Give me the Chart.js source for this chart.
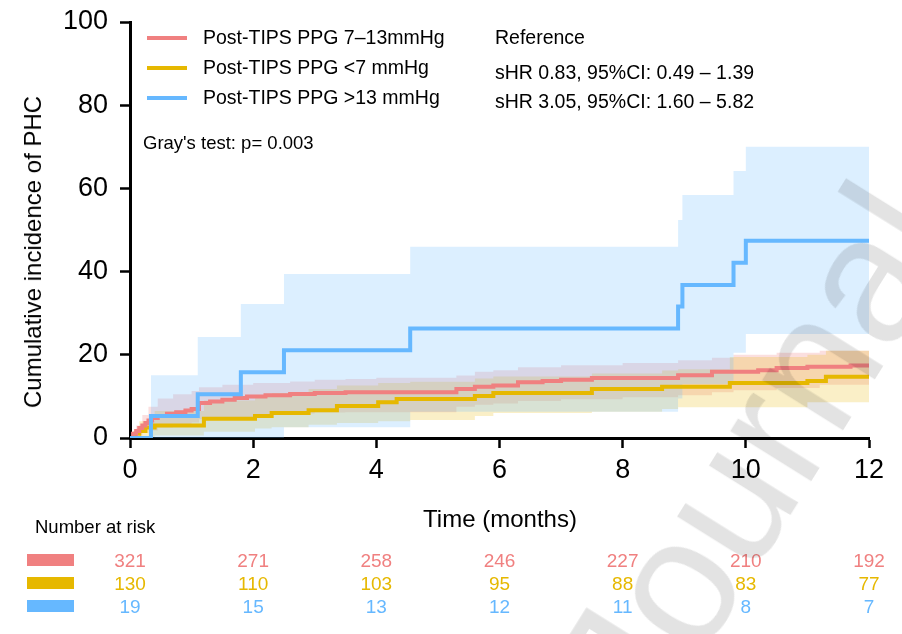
<!DOCTYPE html>
<html>
<head>
<meta charset="utf-8">
<script src="https://cdn.jsdelivr.net/npm/chart.js@4.4.1/dist/chart.umd.min.js"></script>
<style>
  body { margin: 0; background: #fff; font-family: "Liberation Sans", Arial, sans-serif; }
  #wrap { position: relative; width: 902px; height: 634px; overflow: hidden; }
  #chart { position: absolute; left: 0; top: 0; }
  .txt { position: absolute; white-space: nowrap; color: #000; line-height: 1; }
  .swatch { position: absolute; height: 4px; width: 40px; }
  .box { position: absolute; height: 12px; width: 47px; left: 27px; }
  .num { position: absolute; font-size: 19px; transform: translate(-50%, -50%); line-height: 1; }
  #wm { position: absolute; font-size: 180px; color: rgba(0,0,0,0.11); white-space: nowrap;
        transform-origin: 0 0; pointer-events: none; }
</style>
</head>
<body>
<div id="wrap">
  <canvas id="chart" width="902" height="634"></canvas>
</div>
<script>
// Colors
const colors = {
  pink: 'rgb(240, 128, 128)',
  pinkBand: 'rgba(240, 128, 128, 0.25)',
  yellow: 'rgb(230, 184, 0)',
  yellowBand: 'rgba(230, 184, 0, 0.22)',
  blue: 'rgb(102, 184, 255)',
  blueBand: 'rgba(102, 184, 255, 0.23)'
};

// Axis ticks / risk table columns
const months = [0, 2, 4, 6, 8, 10, 12];
const riskPink = [321, 271, 258, 246, 227, 210, 192];
const riskYellow = [130, 110, 103, 95, 88, 83, 77];
const riskBlue = [19, 15, 13, 12, 11, 8, 7];

// Post-TIPS PPG 7-13mmHg (cumulative incidence, %)
const pinkT = [0, 0.05, 0.1, 0.15, 0.2, 0.25, 0.3, 0.36, 0.45, 0.6, 0.75, 0.9, 1.0, 1.12, 1.3, 1.5, 1.7, 1.9, 2.2, 2.6, 3.0, 3.5, 5.3, 5.6, 5.9, 6.3, 6.7, 7.0, 7.5, 8.9, 9.45, 10.2, 10.5, 11.0, 11.7, 12];
const pinkY = [0, 1, 1.7, 2.4, 3, 3.6, 4.2, 4.8, 5.3, 5.8, 6.2, 6.6, 7, 8.4, 8.8, 9.2, 9.6, 10, 10.3, 10.6, 10.8, 11, 11.8, 12.3, 12.6, 13.4, 13.7, 14, 14.4, 15.1, 15.9, 16.3, 16.8, 17.1, 17.4, 17.4];
const pinkBandT = [0, 0.1, 0.2, 0.3, 0.45, 0.7, 1.0, 1.12, 1.5, 2.0, 2.6, 3.0, 3.5, 4.0, 5.3, 5.6, 5.9, 6.3, 7.0, 8.0, 8.9, 9.45, 9.8, 10.5, 11.2, 12];
const pinkUpper = [0, 3, 5.5, 7.5, 9.5, 10.5, 11.3, 12.2, 12.8, 13.2, 13.6, 14, 14.2, 14.5, 15, 15.9, 16.3, 17, 17.5, 18, 18.7, 19.3, 20, 20.5, 21, 21];
const pinkLower = [0, 0.6, 1.2, 1.8, 2.5, 3.2, 3.7, 4.5, 5, 5.5, 5.9, 6.1, 6.2, 6.2, 7.5, 8, 8.3, 8.9, 9.3, 9.8, 10.3, 11, 11.5, 12, 12.8, 13];

// Post-TIPS PPG <7 mmHg
const yellowT = [0, 0.08, 0.15, 0.25, 0.4, 1.2, 2.03, 2.3, 2.9, 3.36, 4.03, 4.33, 5.6, 5.9, 7.5, 8.64, 9.74, 11.0, 11.3, 12];
const yellowY = [0, 1, 1.7, 2.5, 3, 4.6, 5.3, 6, 6.7, 7.7, 8.6, 9.4, 10.1, 10.8, 11.8, 12.3, 13.2, 13.7, 14.7, 14.7];
const yellowBandT = [0, 0.15, 0.4, 1.2, 2.03, 2.3, 2.9, 3.36, 4.03, 4.55, 5.6, 5.9, 7.5, 8.64, 8.9, 9.74, 11.0, 11.3, 12];
const yellowUpper = [0, 4, 6.5, 9, 10, 10.8, 11.8, 12.6, 13.2, 13.5, 14.3, 14.8, 15.5, 16.2, 16.5, 19.5, 20, 21, 21];
const yellowLower = [0, 0.3, 0.6, 1.5, 2.3, 2.6, 3.2, 3.6, 4.0, 4.3, 5.3, 6, 6.3, 7.0, 7.4, 7.4, 8.6, 8.6, 8.6];

// Post-TIPS PPG >13 mmHg
const blueT = [0, 0.34, 1.1, 1.8, 2.5, 4.55, 8.9, 8.97, 9.8, 10.0, 12];
const blueY = [0, 5.3, 10.5, 15.8, 21.1, 26.3, 31.6, 36.8, 42.1, 47.4, 47.4];
const blueBandT = [0.34, 1.1, 1.8, 2.5, 4.55, 8.9, 8.97, 9.8, 10.0, 12];
const blueUpper = [15.1, 24.3, 32.2, 39.4, 46, 52.4, 58.4, 64.2, 70, 70];
const blueLower = [0, 0, 0, 2.6, 6.3, 9.5, 13, 20.5, 25, 25];

function pts(t, y) {
  return t.map((v, i) => ({ x: v, y: y[i] }));
}

function lineSet(t, y, color) {
  return {
    data: pts(t, y),
    borderColor: color,
    borderWidth: 4,
    pointRadius: 0,
    stepped: 'before',
    fill: false,
    order: 0
  };
}

function bandSet(t, y, color, target) {
  return {
    data: pts(t, y),
    borderWidth: 0,
    borderColor: 'rgba(0,0,0,0)',
    backgroundColor: color,
    pointRadius: 0,
    stepped: 'before',
    fill: target === undefined ? false : { target: target },
    order: 1
  };
}

const datasets = [
  lineSet(blueT, blueY, colors.blue),          // 0
  lineSet(pinkT, pinkY, colors.pink),          // 1
  lineSet(yellowT, yellowY, colors.yellow),    // 2
  bandSet(blueBandT, blueLower, colors.blueBand),          // 3
  bandSet(blueBandT, blueUpper, colors.blueBand, 3),       // 4
  bandSet(yellowBandT, yellowLower, colors.yellowBand),    // 5
  bandSet(yellowBandT, yellowUpper, colors.yellowBand, 5), // 6
  bandSet(pinkBandT, pinkLower, colors.pinkBand),          // 7
  bandSet(pinkBandT, pinkUpper, colors.pinkBand, 7)        // 8
];

const tickFont = { family: "'Liberation Sans', Arial, sans-serif", size: 27 };

const chart = new Chart(document.getElementById('chart').getContext('2d'), {
  type: 'line',
  data: { datasets: datasets },
  options: {
    responsive: false,
    animation: false,
    events: [],
    layout: { padding: { top: 22, right: 33, left: 0, bottom: 0 } },
    plugins: {
      legend: { display: false },
      tooltip: { enabled: false },
      filler: { propagate: false }
    },
    scales: {
      x: {
        type: 'linear',
        min: 0,
        max: 12,
        afterFit: (scale) => {
          scale.height = 196;
          scale.paddingLeft = 0;
          scale.paddingRight = 0;
        },
        border: { color: '#000', width: 3 },
        grid: { drawOnChartArea: false, drawTicks: true, tickLength: 10, tickWidth: 2.5, tickColor: '#000' },
        ticks: { stepSize: 2, color: '#000', font: tickFont, padding: 6, maxRotation: 0 }
      },
      y: {
        min: 0,
        max: 100,
        afterFit: (scale) => {
          scale.width = 130;
          scale.paddingTop = 0;
          scale.paddingBottom = 0;
        },
        border: { color: '#000', width: 3 },
        grid: { drawOnChartArea: false, drawTicks: true, tickLength: 10, tickWidth: 2.5, tickColor: '#000' },
        ticks: { stepSize: 20, color: '#000', font: tickFont, padding: 12 }
      }
    }
  }
});

// Overlay texts
const wrap = document.getElementById('wrap');
function addText(str, left, top, size, extra) {
  const d = document.createElement('div');
  d.className = 'txt';
  d.textContent = str;
  d.style.left = left + 'px';
  d.style.top = top + 'px';
  d.style.fontSize = size + 'px';
  if (extra) Object.assign(d.style, extra);
  wrap.appendChild(d);
  return d;
}

// Legend
const legendRows = [
  ['Post-TIPS PPG 7\u201313mmHg', colors.pink, 38],
  ['Post-TIPS PPG <7 mmHg', colors.yellow, 68],
  ['Post-TIPS PPG >13 mmHg', colors.blue, 98]
];
legendRows.forEach(r => {
  const s = document.createElement('div');
  s.className = 'swatch';
  s.style.left = '147px';
  s.style.top = (r[2] - 2) + 'px';
  s.style.background = r[1];
  wrap.appendChild(s);
  addText(r[0], 203, r[2], 19.5, { transform: 'translateY(-50%)' });
});

addText('Reference', 495, 38, 19.5, { transform: 'translateY(-50%)' });
addText('sHR 0.83, 95%CI: 0.49 \u2013 1.39', 495, 73, 19.5, { transform: 'translateY(-50%)' });
addText('sHR 3.05, 95%CI: 1.60 \u2013 5.82', 495, 102, 19.5, { transform: 'translateY(-50%)' });
addText("Gray's test: p= 0.003", 143, 143, 18.5, { transform: 'translateY(-50%)' });

// Axis titles
addText('Cumulative incidence of PHC', 33, 252, 24, { transform: 'translate(-50%, -50%) rotate(-90deg)' });
addText('Time (months)', 500, 519, 24, { transform: 'translate(-50%, -50%)' });

// Number at risk table
addText('Number at risk', 35, 527, 18.5, { transform: 'translateY(-50%)' });
const xs = chart.scales.x;
[[riskPink, colors.pink, 560], [riskYellow, colors.yellow, 583], [riskBlue, colors.blue, 606]].forEach(row => {
  const b = document.createElement('div');
  b.className = 'box';
  b.style.top = (row[2] - 6) + 'px';
  b.style.background = row[1];
  wrap.appendChild(b);
  months.forEach((m, i) => {
    const d = document.createElement('div');
    d.className = 'num';
    d.textContent = row[0][i];
    d.style.left = xs.getPixelForValue(m) + 'px';
    d.style.top = row[2] + 'px';
    d.style.color = row[1];
    wrap.appendChild(d);
  });
});

// Watermark
const wm = document.createElement('div');
wm.id = 'wm';
wm.textContent = 'Journal';
wm.style.left = '510px';
wm.style.top = '650px';
wm.style.transform = 'rotate(-58deg)';
wrap.appendChild(wm);
</script>
</body>
</html>
